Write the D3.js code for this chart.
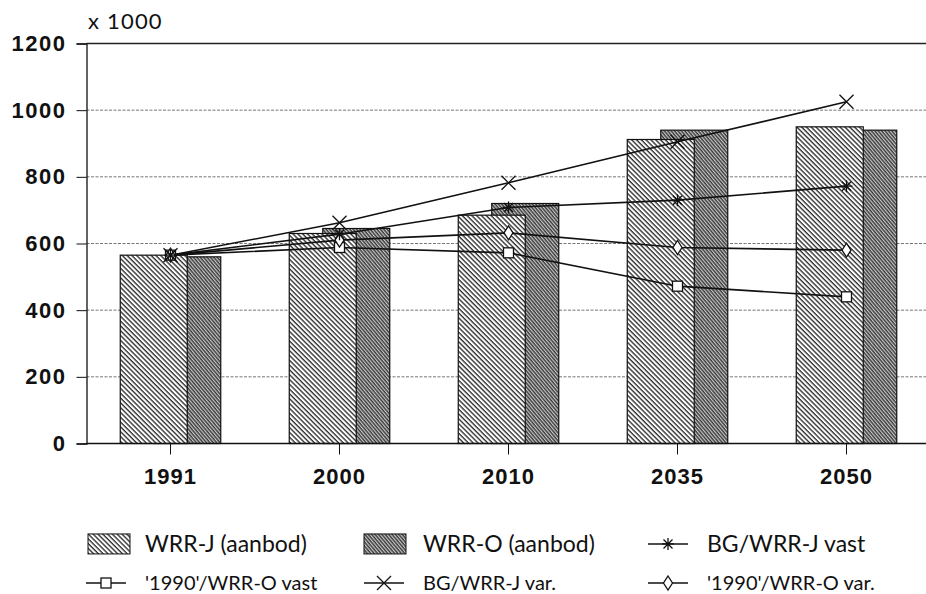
<!DOCTYPE html>
<html>
<head>
<meta charset="utf-8">
<script src="https://cdn.jsdelivr.net/npm/d3@7"></script>
<style>
  body { margin: 0; background: #fff; }
  svg { display: block; }
</style>
</head>
<body>
<svg id="chart" width="926" height="594"></svg>
<script>
// data (x 1000)
const years = ['1991', '2000', '2010', '2035', '2050'];
const wrrJ = [565, 630, 685, 912, 950];
const wrrO = [560, 645, 720, 940, 940];
const bgJVast = [565, 628, 708, 730, 772];
const o1990Vast = [565, 588, 572, 472, 440];
const bgJVar = [565, 662, 782, 905, 1025];
const o1990Var = [565, 610, 632, 588, 580];
const yTicks = [0, 200, 400, 600, 800, 1000, 1200];

const svg = d3.select('#chart');
const margin = {top: 43.5, left: 86.5, bottom: 443.5};

const x = d3.scaleBand().domain(years).range([86, 931]);
const y = d3.scaleLinear().domain([0, 1200]).range([margin.bottom, margin.top]);
const barW = 67;

// hatch patterns
const defs = svg.append('defs');
const pJ = defs.append('pattern').attr('id', 'hatchJ')
  .attr('patternUnits', 'userSpaceOnUse').attr('width', 3.4).attr('height', 10)
  .attr('patternTransform', 'rotate(-45)');
pJ.append('rect').attr('width', 3.4).attr('height', 10).attr('fill', '#fff');
pJ.append('line').attr('x1', 1).attr('x2', 1).attr('y1', 0).attr('y2', 10)
  .attr('stroke', '#111').attr('stroke-width', 1.2);

const pO = defs.append('pattern').attr('id', 'hatchO')
  .attr('patternUnits', 'userSpaceOnUse').attr('width', 2.6).attr('height', 10)
  .attr('patternTransform', 'rotate(-40)');
pO.append('rect').attr('width', 2.6).attr('height', 10).attr('fill', '#c8c8c8');
pO.append('line').attr('x1', 1).attr('x2', 1).attr('y1', 0).attr('y2', 10)
  .attr('stroke', '#111').attr('stroke-width', 1.1);

// grid
svg.append('g')
  .selectAll('line')
  .data(yTicks.filter(d => d > 0))
  .join('line')
  .attr('x1', margin.left).attr('x2', 926)
  .attr('y1', d => y(d)).attr('y2', d => y(d))
  .attr('stroke', d => d === 1200 ? '#222' : '#777')
  .attr('stroke-width', d => d === 1200 ? 1.3 : 1)
  .attr('stroke-dasharray', d => d === 1200 ? null : '3,1.5');

// y axis
const yAxis = svg.append('g')
  .attr('transform', 'translate(' + margin.left + ',0)')
  .call(d3.axisLeft(y).tickValues(yTicks).tickFormat(d3.format('d')).tickSize(10).tickPadding(10));
yAxis.select('.domain').attr('stroke', '#111').attr('stroke-width', 1.3);
yAxis.selectAll('.tick line').attr('stroke', '#111');
yAxis.selectAll('text')
  .attr('font-family', 'Liberation Sans, Arial, sans-serif')
  .attr('font-weight', 'bold').attr('font-size', 22)
  .attr('letter-spacing', 1.5).attr('fill', '#111');

svg.append('text')
  .attr('x', 88).attr('y', 29)
  .attr('font-family', 'Lato, sans-serif').attr('font-size', 22)
  .attr('letter-spacing', 1.2)
  .attr('fill', '#111')
  .text('x 1000');

// bars: WRR-O behind, WRR-J in front
svg.append('g')
  .selectAll('rect')
  .data(wrrO)
  .join('rect')
  .attr('x', (d, i) => x(years[i]) + x.bandwidth() / 2 - barW * 0.25)
  .attr('y', d => y(d))
  .attr('width', barW)
  .attr('height', d => y(0) - y(d))
  .attr('fill', 'url(#hatchO)')
  .attr('stroke', '#111').attr('stroke-width', 1.2);

svg.append('g')
  .selectAll('rect')
  .data(wrrJ)
  .join('rect')
  .attr('x', (d, i) => x(years[i]) + x.bandwidth() / 2 - barW * 0.75)
  .attr('y', d => y(d))
  .attr('width', barW)
  .attr('height', d => y(0) - y(d))
  .attr('fill', 'url(#hatchJ)')
  .attr('stroke', '#111').attr('stroke-width', 1.2);

// x axis
const xAxis = svg.append('g')
  .attr('transform', 'translate(0,' + margin.bottom + ')')
  .call(d3.axisBottom(x).tickSize(11).tickSizeOuter(0).tickPadding(14));
xAxis.select('.domain').attr('stroke', '#111').attr('stroke-width', 1.3)
  .attr('d', 'M' + margin.left + ',0H926');
xAxis.selectAll('.tick line').attr('stroke', '#111');
xAxis.selectAll('text')
  .attr('font-family', 'Liberation Sans, Arial, sans-serif')
  .attr('font-weight', 'bold').attr('font-size', 22)
  .attr('letter-spacing', 1).attr('fill', '#111');

// marker shapes
function drawMarker(g, type, cx, cy) {
  const s = g.append('g').attr('transform', 'translate(' + cx + ',' + cy + ')')
    .attr('stroke', '#111').attr('stroke-width', 1.3).attr('fill', 'none');
  if (type === 'star') {
    s.append('path').attr('d', 'M-6,0H6M0,-6V6M-4.5,-4.5L4.5,4.5M-4.5,4.5L4.5,-4.5');
  } else if (type === 'cross') {
    s.append('path').attr('d', 'M-7,-7L7,7M-7,7L7,-7');
  } else if (type === 'square') {
    s.append('rect').attr('x', -5).attr('y', -5).attr('width', 10).attr('height', 10).attr('fill', '#fff');
  } else if (type === 'diamond') {
    s.append('path').attr('d', 'M0,-7L4.5,0L0,7L-4.5,0Z').attr('fill', '#fff');
  }
}

const lineSeries = [
  {name: "'1990'/WRR-O vast", values: o1990Vast, marker: 'square'},
  {name: "'1990'/WRR-O var.", values: o1990Var, marker: 'diamond'},
  {name: 'BG/WRR-J vast', values: bgJVast, marker: 'star'},
  {name: 'BG/WRR-J var.', values: bgJVar, marker: 'cross'}
];

const line = d3.line()
  .x((d, i) => x(years[i]) + x.bandwidth() / 2)
  .y(d => y(d));

const lines = svg.append('g');
lineSeries.forEach(s => {
  lines.append('path')
    .attr('d', line(s.values))
    .attr('fill', 'none').attr('stroke', '#111').attr('stroke-width', 1.6);
});
lineSeries.forEach(s => {
  s.values.forEach((v, i) => {
    drawMarker(lines, s.marker, x(years[i]) + x.bandwidth() / 2, y(v));
  });
});

// legend
const legendFont = 'Lato, "Open Sans", sans-serif';
const legendItems = [
  {label: 'WRR-J (aanbod)', kind: 'bar', fill: 'url(#hatchJ)', sx: 88, tx: 145, ty: 552, fs: 23},
  {label: 'WRR-O (aanbod)', kind: 'bar', fill: 'url(#hatchO)', sx: 364, tx: 423, ty: 552, fs: 23},
  {label: 'BG/WRR-J vast', kind: 'line', marker: 'star', sx: 648, tx: 707, ty: 552, fs: 23},
  {label: "'1990'/WRR-O vast", kind: 'line', marker: 'square', sx: 86, tx: 145, ty: 590, fs: 20},
  {label: 'BG/WRR-J var.', kind: 'line', marker: 'cross', sx: 364, tx: 423, ty: 590, fs: 20},
  {label: "'1990'/WRR-O var.", kind: 'line', marker: 'diamond', sx: 648, tx: 707, ty: 590, fs: 20}
];

const legend = svg.append('g');
legendItems.forEach(d => {
  const mid = d.ty - d.fs * 0.35;
  if (d.kind === 'bar') {
    legend.append('rect')
      .attr('x', d.sx).attr('y', mid - 10).attr('width', 42).attr('height', 20)
      .attr('fill', d.fill).attr('stroke', '#111').attr('stroke-width', 1);
  } else {
    legend.append('line')
      .attr('x1', d.sx).attr('x2', d.sx + 40)
      .attr('y1', mid).attr('y2', mid)
      .attr('stroke', '#111').attr('stroke-width', 1.4);
    drawMarker(legend, d.marker, d.sx + 20, mid);
  }
  legend.append('text')
    .attr('x', d.tx).attr('y', d.ty)
    .attr('font-family', legendFont).attr('font-size', d.fs)
    .attr('fill', '#111')
    .text(d.label);
});
</script>
</body>
</html>
